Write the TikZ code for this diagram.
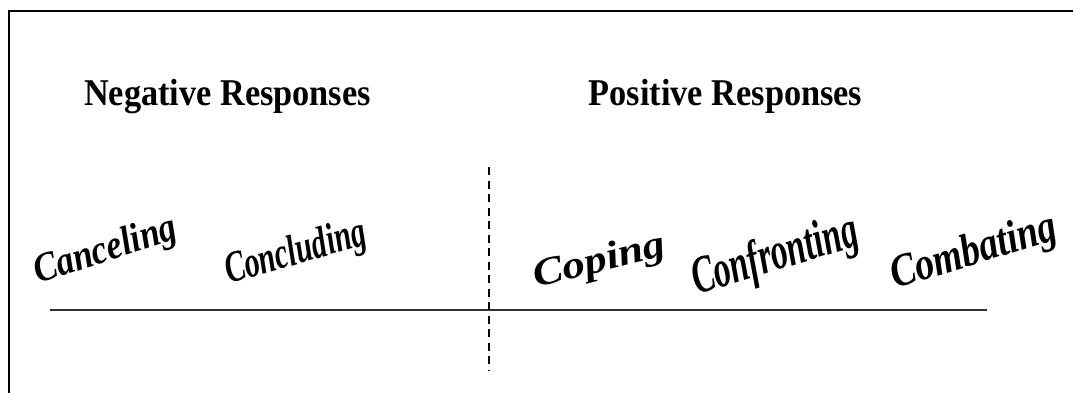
\documentclass[tikz,border=0pt]{standalone}
\usepackage{fontspec}
\setmainfont{Liberation Serif}
\begin{document}
\begin{tikzpicture}[x=1pt,y=-1pt,
  heading/.style={font=\fontsize{35}{40}\bfseries\selectfont, anchor=base, inner sep=0pt},
  wordart/.style={font=\bfseries\itshape, anchor=base west, inner sep=0pt},
  frameline/.style={line width=1.6pt},
  baseline/.style={line width=1.3pt, black!80},
  divider/.style={line width=1.3pt, dash pattern=on 8pt off 5.5pt}]
\useasboundingbox (0,0) rectangle (1073,393);
\coordinate (tl) at (9,11);
\coordinate (tr) at (1073,11);
\coordinate (bl) at (9,393);
\draw[frameline] (bl) -- (tl) -- (tr);
\coordinate (la) at (50,310);
\coordinate (lb) at (987,310);
\draw[baseline] (la) -- (lb);
\coordinate (da) at (489,167);
\coordinate (db) at (489,371);
\draw[divider] (da) -- (db);
\node[heading] (neg) at (227.5,106) {\scalebox{0.98}[1.08]{Negative Responses}};
\node[heading] (pos) at (725.5,106) {\scalebox{0.98}[1.08]{Positive Responses}};
\node[wordart, rotate=18] (w1) at (38,284) {\fontsize{37}{40}\selectfont\scalebox{0.95}[1.1]{Canceling}};
\node[wordart, rotate=16] (w2) at (229,284) {\fontsize{40}{44}\selectfont\scalebox{0.75}[1.1]{Concluding}};
\node[wordart, rotate=14] (w3) at (536,288) {\fontsize{37}{40}\selectfont\scalebox{1.22}[1.05]{Coping}};
\node[wordart, rotate=17] (w4) at (697,295) {\fontsize{48}{52}\selectfont\scalebox{0.7}[1.1]{Confronting}};
\node[wordart, rotate=17] (w5) at (895,289) {\fontsize{42}{46}\selectfont\scalebox{0.9}[1.1]{Combating}};
\end{tikzpicture}
\end{document}
